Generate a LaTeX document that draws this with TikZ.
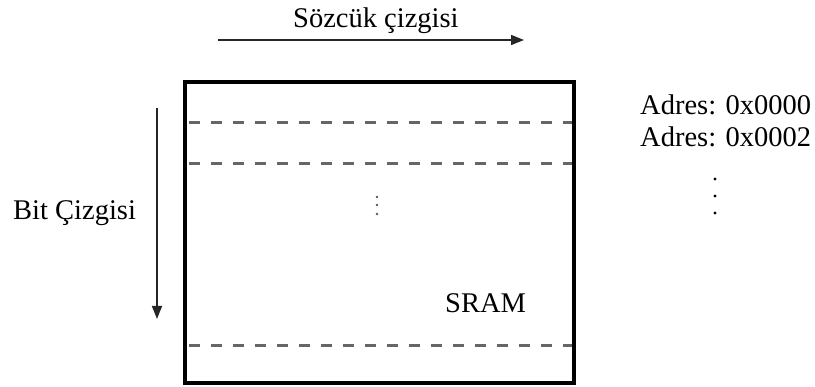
\documentclass[tikz,border=0pt]{standalone}
\usepackage{fontspec}
\setmainfont{Liberation Serif}
\usetikzlibrary{arrows.meta}
\begin{document}
\begin{tikzpicture}[x=1pt,y=-1pt,
  lbl/.style={anchor=base west,inner sep=0pt,font=\fontsize{28.5}{34}\selectfont},
  dir/.style={draw=black!85,line width=1.5pt,-{Triangle[length=13pt,width=10pt]}},
  row/.style={draw=black!60,line width=3pt,dash pattern=on 11pt off 11pt,dash phase=-2pt},
  frame/.style={draw=black,line width=4pt}]
\useasboundingbox (0,0) rectangle (815,387);
% memory block
\draw[frame] (185,82) rectangle (574,383);
\coordinate (r1a) at (187,123); \coordinate (r1b) at (572,123);
\coordinate (r2a) at (187,164); \coordinate (r2b) at (572,164);
\coordinate (r3a) at (187,346); \coordinate (r3b) at (572,346);
\draw[row] (r1a) -- (r1b);
\draw[row] (r2a) -- (r2b);
\draw[row] (r3a) -- (r3b);
% arrows
\coordinate (ws) at (218,40); \coordinate (we) at (524,40);
\draw[dir] (ws) -- (we);
\coordinate (bs) at (157,108); \coordinate (be) at (157,319);
\draw[dir] (bs) -- (be);
% labels
\node[lbl] (wl) at (293,28) {Sözcük çizgisi};
\node[lbl] (bl) at (13,220) {Bit Çizgisi};
\node[lbl] (sr) at (445,313) {SRAM};
\node[lbl] (a0) at (640,115) {Adres: 0x0000};
\node[lbl] (a2) at (640,147) {Adres: 0x0002};
% dots
\foreach \y in {197,205,214} \fill[black!65] (377,\y) circle (1.4pt);
\foreach \y in {179,196,213} \fill[black] (715,\y) circle (1.6pt);
\end{tikzpicture}
\end{document}
